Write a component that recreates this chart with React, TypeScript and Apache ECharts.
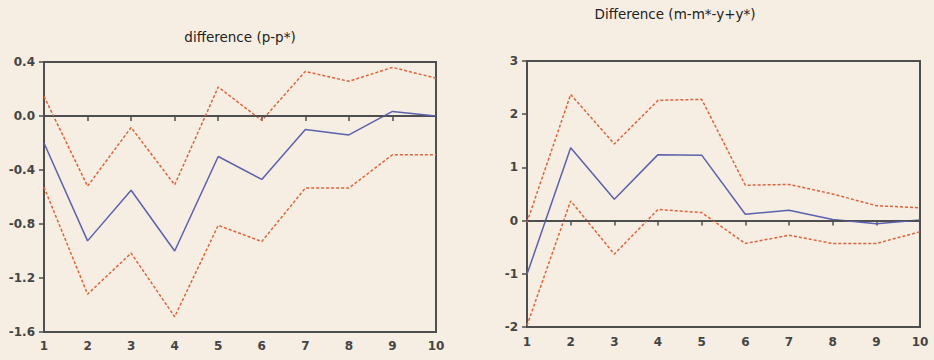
import React, { useEffect, useRef } from "react";
import * as echarts from "echarts";

const periods = ["1", "2", "3", "4", "5", "6", "7", "8", "9", "10"];

const leftTitle = "difference (p-p*)";
const leftMid = [-0.2, -0.925, -0.55, -1.0, -0.3, -0.47, -0.1, -0.14, 0.034, 0.0];
const leftUpper = [0.145, -0.52, -0.085, -0.51, 0.215, -0.033, 0.33, 0.257, 0.36, 0.28];
const leftLower = [-0.527, -1.32, -1.016, -1.487, -0.81, -0.93, -0.534, -0.534, -0.287, -0.287];

const rightTitle = "Difference (m-m*-y+y*)";
const rightMid = [-1.01, 1.37, 0.4, 1.24, 1.23, 0.12, 0.195, 0.02, -0.06, 0.01];
const rightUpper = [-0.03, 2.37, 1.44, 2.26, 2.28, 0.665, 0.68, 0.5, 0.28, 0.24];
const rightLower = [-1.97, 0.37, -0.63, 0.21, 0.15, -0.43, -0.275, -0.43, -0.43, -0.21];

const BG = "#F6EEE2";
const FRAME = "#4E4E4E";
const BLUE = "#5C61AE";
const RED = "#DD643C";
const LABEL = "#444444";
const FONT = "'DejaVu Sans', Verdana, sans-serif";

export default function App() {
  const ref = useRef<HTMLDivElement>(null);
  useEffect(() => {
    if (!ref.current) return;
    const chart = echarts.init(ref.current, null, { renderer: "svg" });
    const xAxisBase = (gridIndex: number, margin: number) => ({
      type: "category",
      gridIndex,
      data: periods,
      boundaryGap: false,
      axisLine: { show: true, lineStyle: { color: FRAME, width: 2 } },
      axisTick: { show: true, alignWithLabel: true, length: 5, lineStyle: { color: FRAME, width: 1.5 } },
      axisLabel: { color: LABEL, fontSize: 12, fontFamily: FONT, fontWeight: "bold", margin },
      splitLine: { show: false },
    });
    const yAxisBase = (gridIndex: number, min: number, max: number, interval: number, digits: number) => ({
      type: "value",
      gridIndex,
      min,
      max,
      interval,
      axisLine: { show: true, lineStyle: { color: FRAME, width: 2 } },
      axisTick: { show: true, length: 5, lineStyle: { color: FRAME, width: 1.5 } },
      axisLabel: {
        color: LABEL,
        fontSize: 12,
        fontFamily: FONT,
        fontWeight: "bold",
        margin: 9,
        formatter: (v: number) => v.toFixed(digits),
      },
      splitLine: { show: false },
    });
    const zeroLine = {
      silent: true,
      symbol: "none",
      label: { show: false },
      lineStyle: { color: FRAME, width: 1, type: "solid" },
      data: [{ yAxis: 0 }],
    };
    const line = (name: string, data: number[], idx: number, color: string, dashed: boolean, withZero = false) => ({
      type: "line",
      name,
      xAxisIndex: idx,
      yAxisIndex: idx,
      data,
      symbol: "none",
      lineStyle: { color, width: 1.5, type: dashed ? [3, 2] : "solid" },
      z: dashed ? 3 : 4,
      ...(withZero ? { markLine: zeroLine } : {}),
    });
    chart.setOption({
      animation: false,
      backgroundColor: BG,
      title: [
        {
          text: leftTitle,
          left: 235,
          top: 25,
          textAlign: "center",
          textStyle: { fontSize: 13.5, fontWeight: "normal", color: "#222", fontFamily: FONT },
        },
        {
          text: rightTitle,
          left: 670,
          top: 2,
          textAlign: "center",
          textStyle: { fontSize: 13.5, fontWeight: "normal", color: "#222", fontFamily: FONT },
        },
      ],
      grid: [
        { left: 44, top: 62, width: 392, height: 270, show: true, borderColor: FRAME, borderWidth: 2, backgroundColor: "transparent" },
        { left: 527, top: 61, width: 393, height: 266, show: true, borderColor: FRAME, borderWidth: 2, backgroundColor: "transparent" },
      ],
      xAxis: [xAxisBase(0, 8), xAxisBase(1, 9)],
      yAxis: [yAxisBase(0, -1.6, 0.4, 0.4, 1), yAxisBase(1, -2, 3, 1, 0)],
      series: [
        line("upper", leftUpper, 0, RED, true, true),
        line("lower", leftLower, 0, RED, true),
        line("response", leftMid, 0, BLUE, false),
        line("upper", rightUpper, 1, RED, true, true),
        line("lower", rightLower, 1, RED, true),
        line("response", rightMid, 1, BLUE, false),
      ],
    });
    return () => chart.dispose();
  }, []);
  return (
    <div
      ref={ref}
      style={{ position: "fixed", left: 0, top: 0, width: 934, height: 360, background: BG }}
    />
  );
}
